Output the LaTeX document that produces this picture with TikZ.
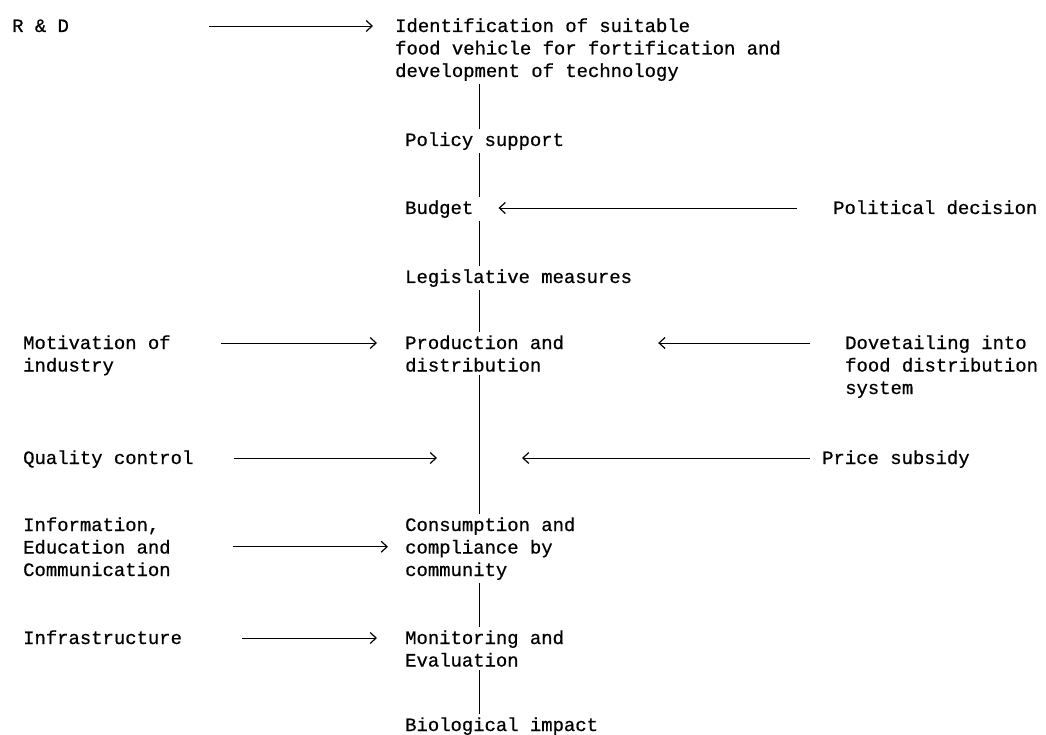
\documentclass[tikz,border=0pt]{standalone}
\usepackage{fontspec}
\newfontfamily\flowfont[FakeBold=0.6]{Liberation Mono}
\usetikzlibrary{arrows.meta}
\tikzset{
	txt/.style={anchor=base west,inner sep=0pt,align=left,font=\flowfont\fontsize{18.9}{22.5}\selectfont},
	feed/.style={draw,line width=0.7pt,-{Straight Barb[length=6pt,width=11pt,line width=1.2pt]}},
	spine/.style={draw,line width=0.9pt,shorten <=3pt,shorten >=3pt}
}
\begin{document}
\begin{tikzpicture}[x=1pt,y=-1pt]
	\useasboundingbox (0,0) rectangle (1046,735);
	\coordinate (axis) at (479,0);
	\node[txt] (rd) at (12,32) {R \& D};
	\node[txt] (ident) at (395,77) {Identification of suitable\\food vehicle for fortification and\\development of technology};
	\node[txt] (policy) at (405,146) {Policy support};
	\node[txt] (budget) at (405,214) {Budget};
	\node[txt] (polit) at (833,214) {Political decision};
	\node[txt] (legis) at (405,283) {Legislative measures};
	\node[txt] (motiv) at (23,371.5) {Motivation of\\industry};
	\node[txt] (prod) at (405,371.5) {Production and\\distribution};
	\node[txt] (dove) at (845,394) {Dovetailing into\\food distribution\\system};
	\node[txt] (qual) at (23,464) {Quality control};
	\node[txt] (price) at (822,464) {Price subsidy};
	\node[txt] (info) at (23,576) {Information,\\Education and\\Communication};
	\node[txt] (cons) at (405,576) {Consumption and\\compliance by\\community};
	\node[txt] (infra) at (23,644) {Infrastructure};
	\node[txt] (monit) at (405,666.5) {Monitoring and\\Evaluation};
	\node[txt] (bio) at (405,731) {Biological impact};
	\path[spine] (ident.south -| axis) -- (policy.north -| axis);
	\path[spine] (policy.south -| axis) -- (budget.north -| axis);
	\path[spine] (budget.south -| axis) -- (legis.north -| axis);
	\path[spine] (legis.south -| axis) -- (prod.north -| axis);
	\path[spine] (prod.south -| axis) -- (cons.north -| axis);
	\path[spine] (cons.south -| axis) -- (monit.north -| axis);
	\path[spine] (monit.south -| axis) -- (bio.north -| axis);
	\path[feed,shorten <=140pt,shorten >=22pt] ([yshift=6pt]rd.base east) -- ([yshift=6pt]rd.base east -| ident.west);
	\path[feed,shorten <=36pt,shorten >=25pt] ([yshift=6pt]polit.base west) -- ([yshift=6pt]polit.base west -| budget.east);
	\path[feed,shorten <=50pt,shorten >=28pt] ([yshift=28.5pt]motiv.base east) -- ([yshift=28.5pt]motiv.base east -| prod.west);
	\path[feed,shorten <=35pt,shorten >=94pt] ([yshift=51pt]dove.base west) -- ([yshift=51pt]dove.base west -| prod.east);
	\path[feed,shorten <=40pt,shorten >=42pt] ([yshift=6pt]qual.base east) -- ([yshift=6pt]qual.base east -| axis);
	\path[feed,shorten <=12pt,shorten >=43pt] ([yshift=6pt]price.base west) -- ([yshift=6pt]price.base west -| axis);
	\path[feed,shorten <=62pt,shorten >=17pt] (info.east) -- (info.east -| cons.west);
	\path[feed,shorten <=60pt,shorten >=28pt] ([yshift=6pt]infra.base east) -- ([yshift=6pt]infra.base east -| monit.west);
\end{tikzpicture}
\end{document}
